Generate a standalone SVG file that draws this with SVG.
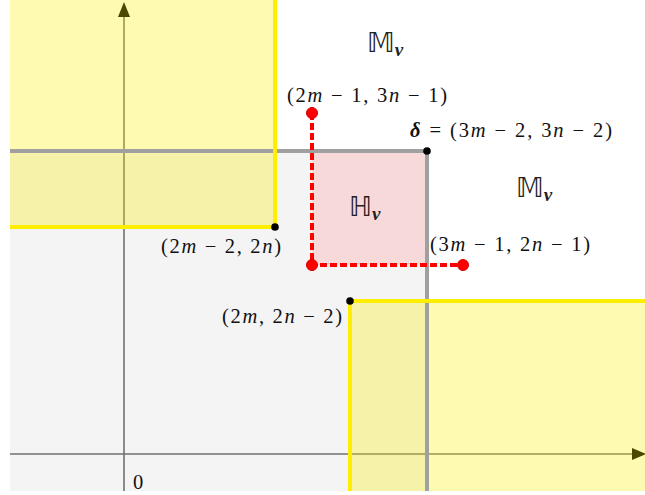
<svg xmlns="http://www.w3.org/2000/svg" width="645" height="495" viewBox="0 0 645 495">
<style>
.lbl{font-family:"Liberation Serif","Times New Roman",serif;font-size:20.5px;fill:#111}
.big{font-family:"DejaVu Sans","Noto Sans",serif;font-size:27px;fill:#222}
.nu{font-family:"Liberation Serif",serif;font-style:italic;font-weight:bold;font-size:19px}
.i{font-style:italic}
.bi{font-style:italic;font-weight:bold}
.yfill{fill:#fff000;fill-opacity:0.3}
.yline{stroke:#ffee00;stroke-width:4;fill:none}
.gline{stroke:#a0a0a0;stroke-width:4;fill:none}
.axis{stroke:#707070;stroke-width:1.6;fill:none}
.red{stroke:#ff0000;stroke-width:4;fill:none;stroke-dasharray:7 3}
.rdot{fill:#ff0000;stroke:#d00000;stroke-width:1}
.bdot{fill:#000}
</style>
<rect width="645" height="495" fill="#ffffff"/>
<g id="regions">
<rect x="10" y="151" width="417" height="340" fill="#f4f4f4"/>
<rect x="312" y="151" width="115" height="114" fill="#f7d9da"/>
</g>
<g id="axes">
<line class="axis" x1="124" y1="491" x2="124" y2="14"/>
<polygon points="124,2 118,17 130,17" fill="#000"/>
<line class="axis" x1="10" y1="454" x2="634" y2="454"/>
<polygon points="646,454 632,448 632,460" fill="#000"/>
</g>
<g id="yellow">
<rect class="yfill" x="10" y="0" width="265" height="227"/>
<rect class="yfill" x="350" y="301" width="295" height="190"/>
</g>
<g id="boundary">
<polyline class="gline" points="10,151 427,151 427,491"/>
</g>
<g id="yellow-borders">
<polyline class="yline" points="275,0 275,227 10,227"/>
<polyline class="yline" points="645,301 350,301 350,491"/>
</g>
<g id="connectors">
<polyline class="red" points="312,113 312,265 463,265"/>
</g>
<g id="points">
<circle class="rdot" cx="312" cy="113" r="5.5"/>
<circle class="rdot" cx="312" cy="265" r="5.5"/>
<circle class="rdot" cx="463" cy="265" r="5.5"/>
<circle class="bdot" cx="427" cy="151" r="3.8"/>
<circle class="bdot" cx="275" cy="227" r="3.8"/>
<circle class="bdot" cx="350" cy="301" r="3.8"/>
</g>
<g id="labels">
<text class="big" x="367" y="52">𝕄<tspan class="nu" dy="4">ν</tspan></text>
<text class="big" x="516" y="197">𝕄<tspan class="nu" dy="4">ν</tspan></text>
<text class="big" x="349" y="216">ℍ<tspan class="nu" dy="4">ν</tspan></text>
<text class="lbl" x="287" y="102" textLength="160" lengthAdjust="spacing">(2<tspan class="i">m</tspan> − 1, 3<tspan class="i">n</tspan> − 1)</text>
<text class="lbl" x="410" y="137" textLength="202" lengthAdjust="spacing"><tspan class="bi">δ</tspan> = (3<tspan class="i">m</tspan> − 2, 3<tspan class="i">n</tspan> − 2)</text>
<text class="lbl" x="430" y="251" textLength="160" lengthAdjust="spacing">(3<tspan class="i">m</tspan> − 1, 2<tspan class="i">n</tspan> − 1)</text>
<text class="lbl" x="161" y="253" textLength="120" lengthAdjust="spacing">(2<tspan class="i">m</tspan> − 2, 2<tspan class="i">n</tspan>)</text>
<text class="lbl" x="222" y="323" textLength="120" lengthAdjust="spacing">(2<tspan class="i">m</tspan>, 2<tspan class="i">n</tspan> − 2)</text>
<text class="lbl" x="133" y="489">0</text>
</g>
</svg>
